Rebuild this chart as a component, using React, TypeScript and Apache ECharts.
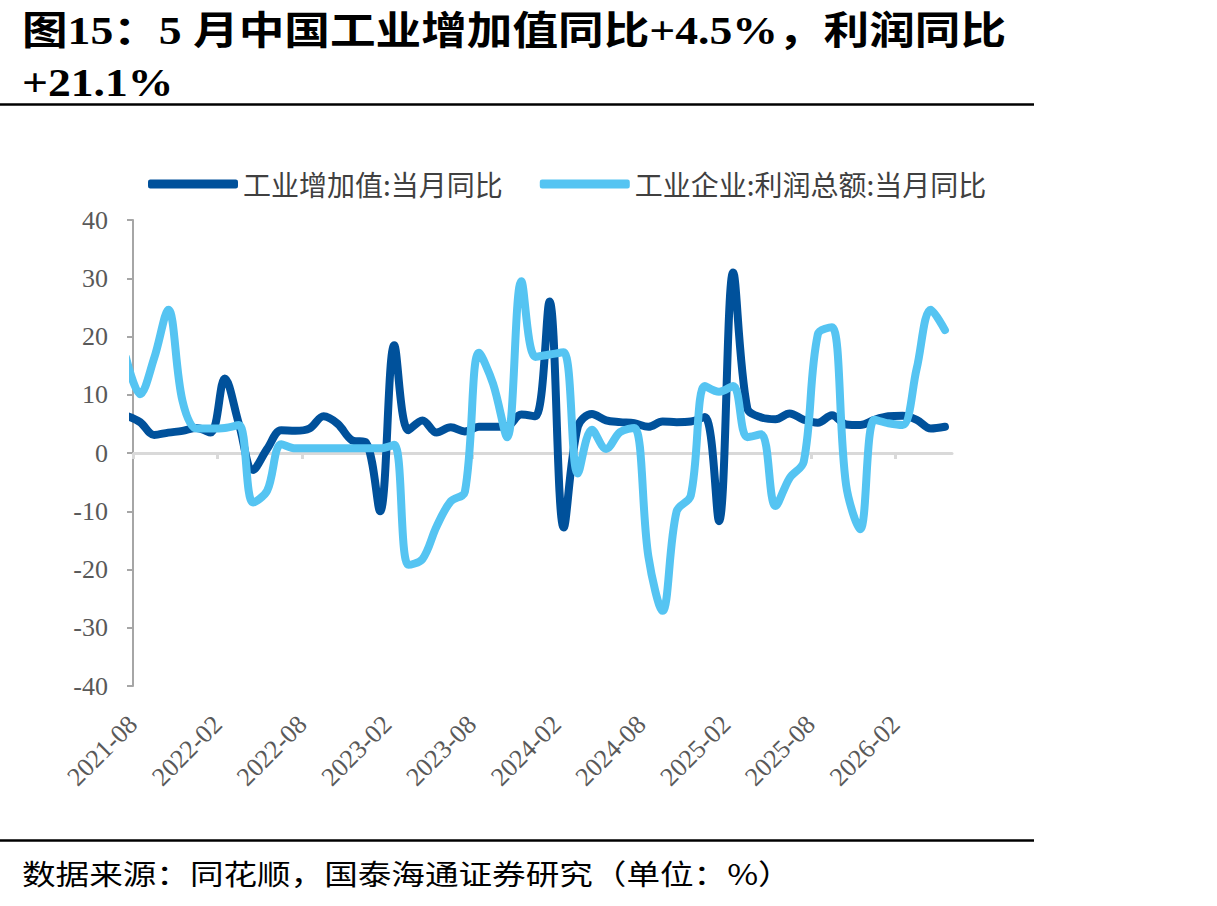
import React, { useEffect, useRef } from 'react';
import * as echarts from 'echarts';

// Monthly observations (mid-month points); the first month sits just left of the axis and is clipped.
const months = [
  '2021-07', '2021-08', '2021-09', '2021-10', '2021-11', '2021-12',
  '2022-01', '2022-02', '2022-03', '2022-04', '2022-05', '2022-06',
  '2022-07', '2022-08', '2022-09', '2022-10', '2022-11', '2022-12',
  '2023-01', '2023-02', '2023-03', '2023-04', '2023-05', '2023-06',
  '2023-07', '2023-08', '2023-09', '2023-10', '2023-11', '2023-12',
  '2024-01', '2024-02', '2024-03', '2024-04', '2024-05', '2024-06',
  '2024-07', '2024-08', '2024-09', '2024-10', '2024-11', '2024-12',
  '2025-01', '2025-02', '2025-03', '2025-04', '2025-05', '2025-06',
  '2025-07', '2025-08', '2025-09', '2025-10', '2025-11', '2025-12',
  '2026-01', '2026-02', '2026-03', '2026-04', '2026-05',
];

// 工业增加值:当月同比 (%)
const valueAdded = [
  6.4, 5.3, 3.1, 3.5, 3.8, 4.3,
  3.5, 12.8, 5.0, -2.9, 0.7, 3.9,
  3.8, 4.2, 6.3, 5.0, 2.2, 1.8,
  -10.0, 18.5, 3.9, 5.6, 3.5, 4.4,
  3.7, 4.5, 4.5, 4.6, 6.6, 6.3,
  26.0, -12.8, 4.5, 6.7, 5.6, 5.3,
  5.1, 4.5, 5.4, 5.3, 5.4, 6.2,
  -11.7, 31.0, 7.7, 6.1, 5.8, 6.8,
  5.7, 5.2, 6.5, 4.9, 4.8, 5.7,
  6.3, 6.4, 5.7, 4.2, 4.5,
];

// 工业企业:利润总额:当月同比 (%)
const profit = [
  16.4, 10.1, 16.3, 24.6, 9.0, 4.2,
  4.2, 4.3, 4.8, -8.5, -6.5, 1.5,
  0.8, 0.8, 0.8, 0.8, 0.8, 0.8,
  0.8, 1.4, -19.2, -18.2, -12.6, -8.3,
  -6.7, 17.2, 11.9, 2.7, 29.5, 16.5,
  16.9, 17.3, -3.5, 4.0, 0.7, 3.6,
  4.3, -17.8, -27.1, -10.0, -7.3, 11.5,
  10.5, 11.5, 2.7, 3.2, -9.1, -4.3,
  -1.5, 20.4, 21.6, -5.5, -13.1, 5.7,
  5.1, 4.8, 14.5, 24.6, 21.1,
];

const tickLabels = [
  '2021-08', '2022-02', '2022-08', '2023-02', '2023-08',
  '2024-02', '2024-08', '2025-02', '2025-08', '2026-02',
];
const axisStart = '2021-08';
const axisEnd = '2026-06';

const seriesNames = ['工业增加值:当月同比', '工业企业:利润总额:当月同比'];
const titleLines = ['图15：5 月中国工业增加值同比+4.5%，利润同比', '+21.1%'];
const sourceText = '数据来源：同花顺，国泰海通证券研究（单位：%）';

// months elapsed since the start of the axis
const monthPos = (m: string) => {
  const [y, mo] = m.split('-').map(Number);
  const [y0, m0] = axisStart.split('-').map(Number);
  return (y - y0) * 12 + (mo - m0);
};

const tickPos = tickLabels.map(monthPos);

export default function App() {
  const ref = useRef<HTMLDivElement>(null);

  useEffect(() => {
    if (!ref.current) return;
    const chart = echarts.init(ref.current, null, { renderer: 'svg' });
    const serif = "'Liberation Serif', 'Noto Sans CJK SC', serif";
    const cjk = "'Noto Sans CJK SC', sans-serif";
    const toPoints = (vals: number[]) => months.map((m, i) => [monthPos(m) + 0.5, vals[i]]);
    const labelFor = (v: number) => {
      const idx = tickPos.indexOf(v);
      return idx >= 0 ? tickLabels[idx] : '';
    };

    chart.setOption({
      animation: false,
      backgroundColor: '#ffffff',
      grid: { left: 133, right: 265, top: 220, bottom: 220, containLabel: false },
      legend: {
        left: 143,
        top: 165,
        itemWidth: 90,
        itemHeight: 9,
        itemGap: 37,
        icon: 'roundRect',
        data: seriesNames,
        textStyle: { fontFamily: cjk, fontSize: 28, color: '#404040' },
      },
      xAxis: [
        {
          type: 'value',
          min: 0,
          max: monthPos(axisEnd),
          axisLine: { show: true, onZero: true, lineStyle: { color: '#D9D9D9', width: 3 } },
          axisTick: {
            show: true,
            customValues: tickPos,
            length: 6,
            lineStyle: { color: '#D9D9D9', width: 3 },
          },
          axisLabel: { show: false },
          splitLine: { show: false },
        },
        {
          type: 'value',
          min: 0,
          max: monthPos(axisEnd),
          position: 'bottom',
          axisLine: { show: false, onZero: false },
          axisTick: { show: false },
          axisLabel: {
            show: true,
            customValues: tickPos,
            rotate: 45,
            margin: 34,
            formatter: labelFor,
            fontFamily: serif,
            fontSize: 26,
            color: '#595959',
          },
          splitLine: { show: false },
        },
      ],
      yAxis: {
        type: 'value',
        min: -40,
        max: 40,
        interval: 10,
        axisLine: { show: true, lineStyle: { color: '#A6A6A6', width: 2 } },
        axisTick: { show: true, length: 6, lineStyle: { color: '#A6A6A6', width: 2 } },
        axisLabel: { fontFamily: serif, fontSize: 26, color: '#595959', margin: 25 },
        splitLine: { show: false },
      },
      series: [
        {
          name: seriesNames[0],
          type: 'line',
          data: toPoints(valueAdded),
          smooth: 0.35,
          showSymbol: false,
          symbol: 'none',
          color: '#00519B',
          lineStyle: { color: '#00519B', width: 8, cap: 'round', join: 'round' },
          clip: true,
        },
        {
          name: seriesNames[1],
          type: 'line',
          data: toPoints(profit),
          smooth: 0.35,
          showSymbol: false,
          symbol: 'none',
          color: '#55C4F2',
          lineStyle: { color: '#55C4F2', width: 8, cap: 'round', join: 'round' },
          clip: true,
        },
      ],
      graphic: [
        {
          type: 'text',
          x: 22,
          y: 31,
          scaleX: 1.17,
          style: {
            text: titleLines[0],
            fontFamily: serif,
            fontWeight: 'bold',
            fontSize: 39,
            fill: '#000000',
            verticalAlign: 'middle',
          },
        },
        {
          type: 'text',
          x: 22,
          y: 83,
          scaleX: 1.17,
          style: {
            text: titleLines[1],
            fontFamily: serif,
            fontWeight: 'bold',
            fontSize: 39,
            fill: '#000000',
            verticalAlign: 'middle',
          },
        },
        {
          type: 'line',
          shape: { x1: 0, y1: 104.5, x2: 1034, y2: 104.5 },
          style: { stroke: '#000000', lineWidth: 2.5 },
        },
        {
          type: 'line',
          shape: { x1: 0, y1: 840.5, x2: 1034, y2: 840.5 },
          style: { stroke: '#000000', lineWidth: 2.5 },
        },
        {
          type: 'text',
          x: 22,
          y: 873,
          scaleX: 1.2,
          style: {
            text: sourceText,
            fontFamily: cjk,
            fontSize: 28,
            fill: '#000000',
            verticalAlign: 'middle',
          },
        },
      ],
    });

    return () => chart.dispose();
  }, []);

  return (
    <div
      ref={ref}
      style={{ position: 'absolute', left: 0, top: 0, width: 1217, height: 906, background: '#fff' }}
    />
  );
}
